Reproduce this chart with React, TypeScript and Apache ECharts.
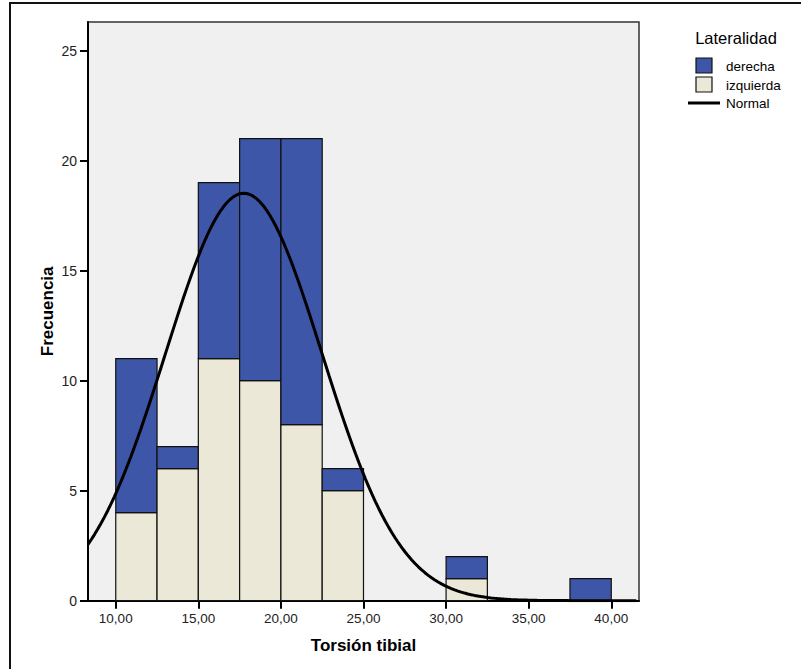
import React, { useEffect, useRef } from "react";
import * as echarts from "echarts";

// Histogram bins (Torsión tibial), width 2.5
const binStarts = [10, 12.5, 15, 17.5, 20, 22.5, 30, 37.5];
const binWidth = 2.5;
const izquierda = [4, 6, 11, 10, 8, 5, 1, 0];
const derecha = [7, 1, 8, 11, 13, 1, 1, 1];
const xTicks = [10, 15, 20, 25, 30, 35, 40];
const yTicks = [0, 5, 10, 15, 20, 25];
// fitted normal curve parameters
const normalMean = 17.75;
const normalSd = 4.74;
const totalN = 88;

const BLUE = "#3D56A8";
const BEIGE = "#EBE8D8";

export default function App() {
  const ref = useRef<HTMLDivElement>(null);
  useEffect(() => {
    if (!ref.current) return;
    const chart = echarts.init(ref.current, undefined, { renderer: "svg" });
    const xMin = 8.32;
    const xMax = 41.68;
    const binData = binStarts.map((s, i) => [s, s + binWidth, izquierda[i], derecha[i]]);
    const curve: number[][] = [];
    for (let x = xMin; x <= xMax + 1e-9; x += 0.2) {
      const z = (x - normalMean) / normalSd;
      const y = (totalN * binWidth) / (normalSd * Math.sqrt(2 * Math.PI)) * Math.exp(-0.5 * z * z);
      curve.push([x, y]);
    }
    const font = "Liberation Sans, Arial, sans-serif";
    chart.setOption({
      animation: false,
      backgroundColor: "#ffffff",
      textStyle: { fontFamily: font },
      grid: {
        left: 88,
        top: 22,
        width: 551,
        height: 578.7,
        show: true,
        backgroundColor: "#F0F0F0",
        borderColor: "#333",
        borderWidth: 1.5,
      },
      xAxis: {
        type: "value",
        min: xMin,
        max: xMax,
        name: "Torsión tibial",
        nameLocation: "middle",
        nameGap: 36,
        nameMoveOverlap: false,
        nameTextStyle: { fontSize: 17, fontWeight: "bold", color: "#000", fontFamily: font },
        axisLine: { show: true, onZero: false, lineStyle: { color: "#000", width: 2 } },
        axisTick: { show: true, customValues: xTicks, length: 8, lineStyle: { color: "#000", width: 2 } },
        axisLabel: {
          customValues: xTicks,
          margin: 11,
          fontSize: 13.5,
          color: "#222",
          fontFamily: font,
          formatter: (v: number) => v.toFixed(2).replace(".", ","),
        },
        splitLine: { show: false },
      },
      yAxis: {
        type: "value",
        min: 0,
        max: 26.3,
        name: "Frecuencia",
        nameLocation: "middle",
        nameGap: 32,
        nameMoveOverlap: false,
        nameTextStyle: { fontSize: 17, fontWeight: "bold", color: "#000", fontFamily: font },
        axisLine: { show: true, lineStyle: { color: "#000", width: 2 } },
        axisTick: { show: true, customValues: yTicks, length: 8, lineStyle: { color: "#000", width: 2 } },
        axisLabel: { customValues: yTicks, margin: 11, fontSize: 14, color: "#222", fontFamily: font },
        splitLine: { show: false },
      },
      series: [
        {
          type: "custom",
          name: "bins",
          data: binData,
          encode: { x: [0, 1], y: [2, 3] },
          renderItem: (params: any, api: any) => {
            const x0 = api.value(0);
            const x1 = api.value(1);
            const a = api.value(2);
            const b = api.value(3);
            const children: any[] = [];
            const p0 = api.coord([x0, 0]);
            const pa = api.coord([x1, a]);
            const pb = api.coord([x1, a + b]);
            if (a > 0) {
              children.push({
                type: "rect",
                shape: { x: p0[0], y: pa[1], width: pa[0] - p0[0], height: p0[1] - pa[1] },
                style: { fill: BEIGE, stroke: "#111", lineWidth: 1.2 },
              });
            }
            if (b > 0) {
              children.push({
                type: "rect",
                shape: { x: p0[0], y: pb[1], width: pb[0] - p0[0], height: pa[1] - pb[1] },
                style: { fill: BLUE, stroke: "#111", lineWidth: 1.2 },
              });
            }
            return { type: "group", children };
          },
          z: 2,
        },
        {
          type: "line",
          name: "Normal",
          data: curve,
          showSymbol: false,
          symbol: "none",
          lineStyle: { color: "#000", width: 3 },
          clip: true,
          z: 3,
        },
      ],
      graphic: [
        {
          type: "polyline",
          shape: { points: [[10, 700], [10, 3], [820, 3]] },
          style: { stroke: "#111", lineWidth: 2, fill: null },
        },
        {
          type: "text",
          x: 736,
          y: 38,
          style: { text: "Lateralidad", fontSize: 16.5, fontFamily: font, fill: "#000", align: "center", verticalAlign: "middle" },
        },
        {
          type: "rect",
          shape: { x: 696, y: 58, width: 16, height: 15 },
          style: { fill: BLUE, stroke: "#111", lineWidth: 1.2 },
        },
        {
          type: "text",
          x: 726,
          y: 66,
          style: { text: "derecha", fontSize: 13.5, fontFamily: font, fill: "#000", verticalAlign: "middle" },
        },
        {
          type: "rect",
          shape: { x: 696, y: 77, width: 16, height: 15 },
          style: { fill: BEIGE, stroke: "#111", lineWidth: 1.2 },
        },
        {
          type: "text",
          x: 726,
          y: 85,
          style: { text: "izquierda", fontSize: 13.5, fontFamily: font, fill: "#000", verticalAlign: "middle" },
        },
        {
          type: "line",
          shape: { x1: 688, y1: 103, x2: 720, y2: 103 },
          style: { stroke: "#000", lineWidth: 3 },
        },
        {
          type: "text",
          x: 726,
          y: 103,
          style: { text: "Normal", fontSize: 13.5, fontFamily: font, fill: "#000", verticalAlign: "middle" },
        },
      ],
    });
    return () => chart.dispose();
  }, []);
  return (
    <div
      ref={ref}
      style={{ position: "fixed", left: 0, top: 0, width: 801, height: 669, background: "#fff" }}
    />
  );
}
